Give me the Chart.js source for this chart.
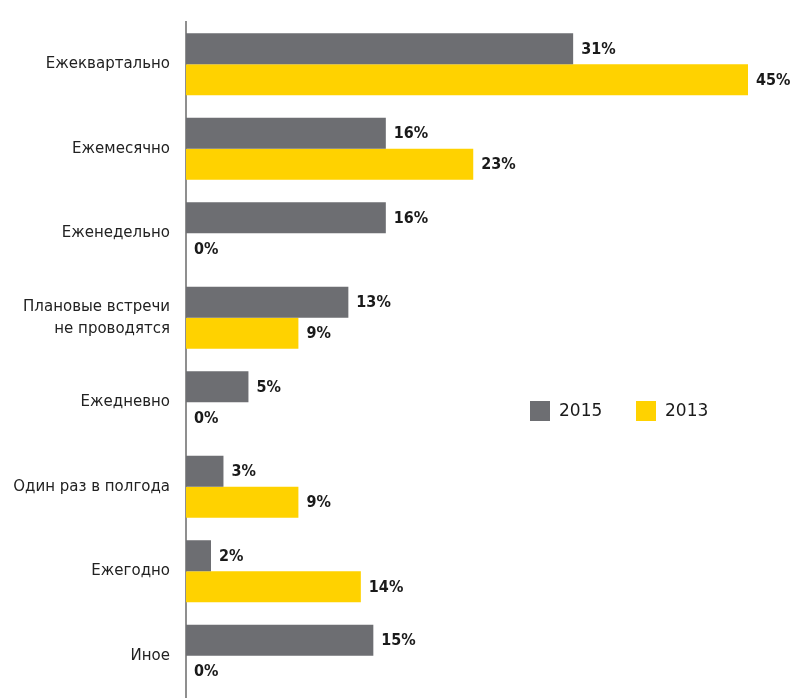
<!DOCTYPE html>
<html lang="ru">
<head>
<meta charset="utf-8">
<title>Частота плановых встреч</title>
<script src="https://cdn.jsdelivr.net/npm/chart.js@4/dist/chart.umd.min.js"></script>
<style>
  html, body { margin: 0; padding: 0; background: #ffffff; }
  #wrap { width: 792px; height: 698px; position: relative; }
</style>
</head>
<body>
<div id="wrap"><canvas id="chart"></canvas></div>
<script>
// Категории (сверху вниз)
const categories = [
  "Ежеквартально",
  "Ежемесячно",
  "Еженедельно",
  ["Плановые встречи", "не проводятся"],
  "Ежедневно",
  "Один раз в полгода",
  "Ежегодно",
  "Иное"
];

// Доли ответов, %
const values2015 = [31, 16, 16, 13, 5, 3, 2, 15];
const values2013 = [45, 23, 0, 9, 0, 9, 14, 0];

const seriesLabels = ["2015", "2013"];
const seriesColors = ["#6d6e72", "#ffd200"];

const valueFont = "bold 16px 'DejaVu Sans Condensed', 'DejaVu Sans', sans-serif";

// Подписи значений справа от столбцов
const valueLabels = {
  id: "valueLabels",
  afterDatasetsDraw(chart) {
    const ctx = chart.ctx;
    ctx.save();
    ctx.font = valueFont;
    ctx.fillStyle = "#1a1a1a";
    ctx.textAlign = "left";
    ctx.textBaseline = "middle";
    chart.data.datasets.forEach((ds, i) => {
      const meta = chart.getDatasetMeta(i);
      meta.data.forEach((bar, j) => {
        ctx.fillText(ds.data[j] + "%", bar.x + 8, bar.y + 1);
      });
    });
    ctx.restore();
  }
};

// Легенда справа, внутри области графика
const sideLegend = {
  id: "sideLegend",
  afterDraw(chart) {
    const ctx = chart.ctx;
    const box = 20;
    let x = 530;
    const y = 411;
    ctx.save();
    ctx.font = "17px 'DejaVu Sans', sans-serif";
    ctx.textAlign = "left";
    ctx.textBaseline = "middle";
    chart.data.datasets.forEach((ds) => {
      ctx.fillStyle = ds.backgroundColor;
      ctx.fillRect(x, y - box / 2, box, box);
      ctx.fillStyle = "#1a1a1a";
      ctx.fillText(ds.label, x + box + 9, y + 1);
      x += 106;
    });
    ctx.restore();
  }
};

new Chart(document.getElementById("chart"), {
  type: "bar",
  data: {
    labels: categories,
    datasets: [
      { label: seriesLabels[0], data: values2015, backgroundColor: seriesColors[0] },
      { label: seriesLabels[1], data: values2013, backgroundColor: seriesColors[1] }
    ]
  },
  options: {
    indexAxis: "y",
    responsive: true,
    maintainAspectRatio: false,
    animation: false,
    layout: { padding: { top: 22, right: 44, bottom: 0, left: 0 } },
    datasets: {
      bar: { categoryPercentage: 0.734, barPercentage: 1.0, borderWidth: 0 }
    },
    scales: {
      x: {
        display: false,
        min: 0,
        max: 45
      },
      y: {
        grid: { display: false, drawTicks: false },
        border: { display: true, color: "#8f8f8f", width: 2 },
        ticks: {
          color: "#222222",
          padding: 16,
          font: { family: "'DejaVu Sans', sans-serif", size: 15, lineHeight: 1.45 }
        },
        afterFit(scale) {
          scale.width = 186;
          scale.paddingTop = 0;
          scale.paddingBottom = 0;
        }
      }
    },
    plugins: {
      legend: { display: false },
      tooltip: { enabled: false }
    }
  },
  plugins: [valueLabels, sideLegend]
});
</script>
</body>
</html>
